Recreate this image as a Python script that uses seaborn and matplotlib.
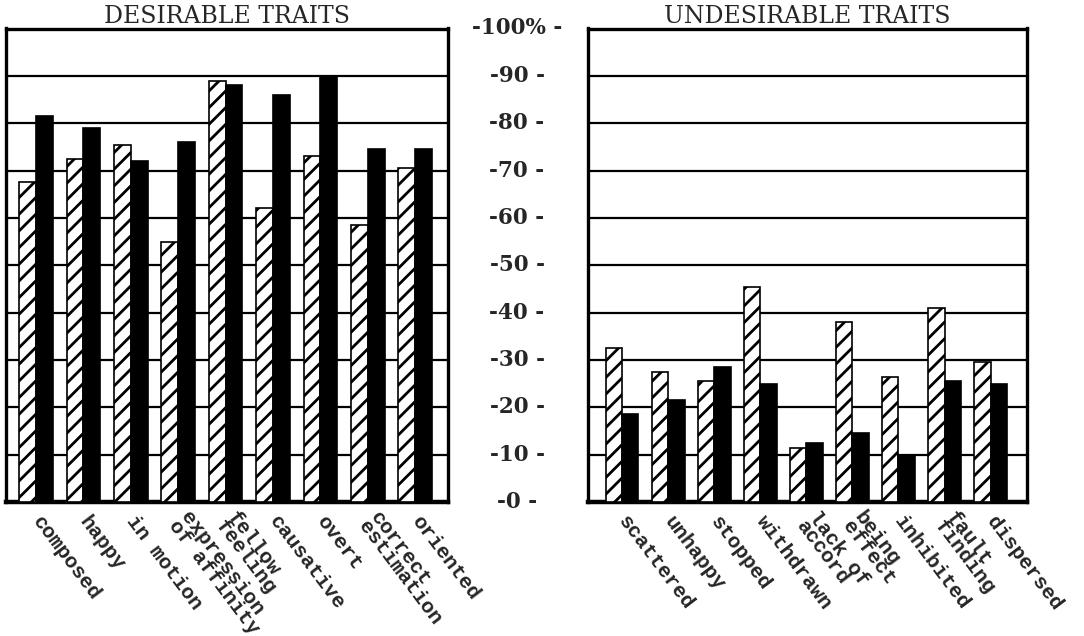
import pandas as pd
import seaborn as sns
import matplotlib.pyplot as plt
from matplotlib.transforms import blended_transform_factory
from matplotlib.lines import Line2D

# values (percent)
desirable_traits = ["composed", "happy", "in motion", "expression\nof affinity",
                    "fellow\nfeeling", "causative", "overt", "correct\nestimation",
                    "oriented"]
desirable_hatched = [67.5, 72.5, 75.5, 55, 89, 62, 73, 58.5, 70.5]
desirable_solid = [81.5, 79, 72, 76, 88, 86, 90, 74.5, 74.5]

undesirable_traits = ["scattered", "unhappy", "stopped", "withdrawn", "lack of\naccord",
                      "being\neffect", "inhibited", "fault\nfinding", "dispersed"]
undesirable_hatched = [32.5, 27.5, 25.5, 45.5, 11.5, 38, 26.5, 41, 29.5]
undesirable_solid = [18.5, 21.5, 28.5, 25, 12.5, 14.5, 10, 25.5, 25]

series_names = ["series A", "series B"]
scale_ticks = list(range(0, 101, 10))

sns.set_style("white")
plt.rcParams["hatch.linewidth"] = 2.0
plt.rcParams["font.family"] = ["DejaVu Serif"]

W, H = 1084, 636
fig = plt.figure(figsize=(W / 100, H / 100), dpi=100)
bottom = (H - 502) / H
height = (502 - 28.5) / H
ax1 = fig.add_axes([6 / W, bottom, (448 - 6) / W, height])
ax2 = fig.add_axes([588 / W, bottom, (1027 - 588) / W, height])


def draw_panel(ax, traits, hatched, solid, title, xlim):
    df = pd.DataFrame({
        "trait": traits + traits,
        "pct": hatched + solid,
        "series": [series_names[0]] * len(traits) + [series_names[1]] * len(traits),
    })
    sns.barplot(data=df, x="trait", y="pct", hue="series", order=traits,
                palette=["white", "black"], saturation=1, width=0.71,
                edgecolor="black", linewidth=1.2, legend=False, ax=ax, zorder=3)
    for bar in ax.containers[0]:
        bar.set_hatch("//")

    ax.set_ylim(0, 100)
    ax.set_xlim(*xlim)
    ax.set_yticks(scale_ticks)
    ax.grid(axis="y", color="black", lw=1.6)
    ax.grid(axis="x", visible=False)
    ax.set_axisbelow(True)
    ax.set_xlabel("")
    ax.set_ylabel("")
    ax.tick_params(left=False, labelleft=False, bottom=False, pad=8)
    for s in ax.spines.values():
        s.set_visible(True)
        s.set_color("black")
        s.set_linewidth(2.4)
    ax.spines["bottom"].set_linewidth(3.2)

    ax.set_xticks(range(len(traits)))
    ax.set_xticklabels(traits, rotation=-53, rotation_mode="anchor", ha="left",
                       va="center", fontsize=15, family="Liberation Mono",
                       weight="bold", linespacing=0.72)

    t = ax.text(0.5, 1.0106, title, transform=ax.transAxes, ha="center",
                va="baseline", fontsize=17)
    return t


t1 = draw_panel(ax1, desirable_traits, desirable_hatched, desirable_solid,
                "DESIRABLE TRAITS", (-0.633, 8.69))
t2 = draw_panel(ax2, undesirable_traits, undesirable_hatched, undesirable_solid,
                "UNDESIRABLE TRAITS", (-0.74, 8.79))

# shared percentage scale between the two panels
trans = blended_transform_factory(fig.transFigure, ax1.transData)
for v in scale_ticks:
    lab = "-100% -" if v == 100 else f"-{v} -"
    ax1.text(517 / W, v, lab, transform=trans, ha="center", va="center",
             fontsize=15.5, weight="bold", clip_on=False)

# underline the titles
fig.canvas.draw()
r = fig.canvas.get_renderer()
for t in (t1, t2):
    bb = t.get_window_extent(r)
    y = bb.y0 - 0.5
    fig.add_artist(Line2D([bb.x0 / W, bb.x1 / W], [y / H, y / H],
                          color="black", lw=1.3))

fig.savefig("out.png", dpi=100, facecolor="white")
